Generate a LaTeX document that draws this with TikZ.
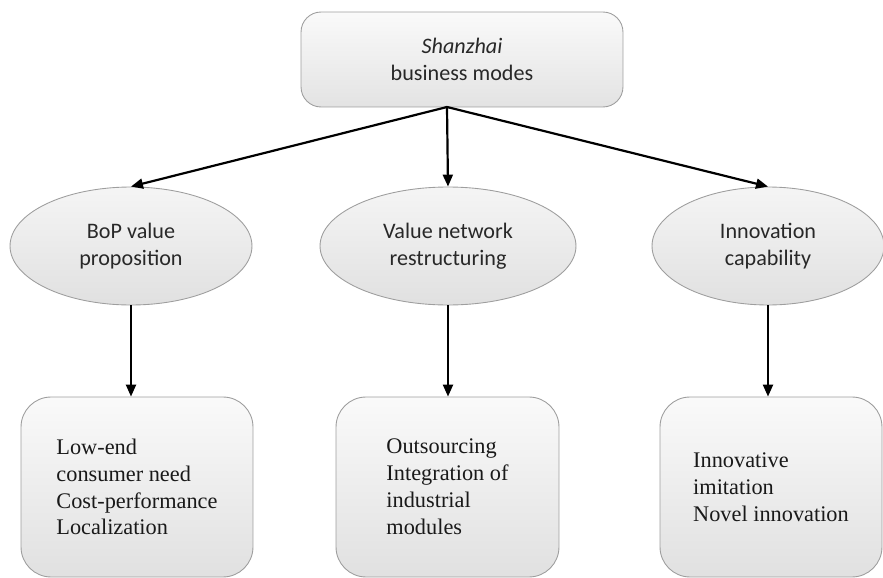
\documentclass[tikz,border=0pt]{standalone}
\usepackage{fontspec}
\setmainfont{Liberation Serif}
\setsansfont{Carlito}
\usepackage{xcolor}
\usetikzlibrary{shapes,arrows.meta,positioning}

\definecolor{edgegray}{RGB}{158,158,158}
\definecolor{inkgray}{RGB}{40,40,40}

\tikzset{
    modebox/.style={draw=edgegray, line width=0.5pt, rounded corners=0.4cm,
        top color=black!2, bottom color=black!11, text=inkgray, align=center,
        font=\sffamily\fontsize{12.6}{15.6}\selectfont},
    aspect/.style={ellipse, draw=edgegray, line width=0.5pt, inner sep=0pt,
        top color=black!4, bottom color=black!12, text=inkgray, align=center,
        minimum height=2.36cm, font=\sffamily\fontsize{12.6}{15.6}\selectfont},
    detail/.style={draw=edgegray, line width=0.5pt, rounded corners=0.6cm,
        top color=black!2, bottom color=black!12, text=black!90, align=left,
        minimum height=3.6cm, font=\fontsize{12.7}{15.3}\selectfont},
    link/.style={line width=1.25pt, -{Triangle[length=0.24cm, width=0.2cm]}}
}

\begin{document}
\begin{tikzpicture}[x=0.02cm, y=-0.02cm]
    \useasboundingbox (0, 0) rectangle (883, 578);

    % Top
    \node [modebox, minimum width=6.44cm, minimum height=1.9cm] (modes) at (462, 59.5)
        {\textit{Shanzhai}\\business modes};
    \coordinate (hub) at (447, 107);

    % Three aspects
    \node [aspect, minimum width=4.84cm] (bop) at (131, 246) {BoP value\\proposition};
    \node [aspect, minimum width=5.12cm] (network) at (448, 246) {Value network\\restructuring};
    \node [aspect, minimum width=4.64cm] (capab) at (768, 246) {Innovation\\capability};

    \draw [link] (hub) -- (bop.north);
    \draw [link] (hub) -- (network.north);
    \draw [link] (hub) -- (capab.north);

    % Details
    \node [detail, minimum width=4.64cm] (need) at (137, 487)
        {Low-end\\consumer need\\Cost-performance\\Localization};
    \node [detail, minimum width=4.46cm] (outsrc) at (447.5, 487)
        {Outsourcing\\Integration of\\industrial\\modules};
    \node [detail, minimum width=4.44cm] (imit) at (771, 487)
        {Innovative\\imitation\\Novel innovation};

    \draw [link] (bop.south) -- (bop.south |- need.north);
    \draw [link] (network.south) -- (network.south |- outsrc.north);
    \draw [link] (capab.south) -- (capab.south |- imit.north);
\end{tikzpicture}
\end{document}
